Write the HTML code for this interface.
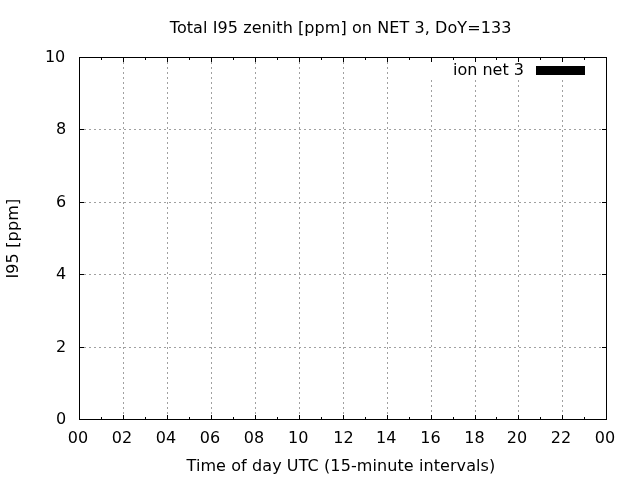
<!DOCTYPE html>
<html><head><meta charset="utf-8"><title>Total I95 zenith</title>
<style>html,body{margin:0;padding:0;background:#fff;}svg{display:block;font-family:"DejaVu Sans","Liberation Sans",sans-serif;font-size:16px;fill:#000;}</style>
</head><body>
<svg width="640" height="480" viewBox="0 0 640 480">
<rect x="0" y="0" width="640" height="480" fill="#fff"/>
<g stroke="#a0a0a0" stroke-width="1" stroke-dasharray="2 3" fill="none">
<path d="M123.5 57V419.5"/>
<path d="M167.5 57V419.5"/>
<path d="M211.5 57V419.5"/>
<path d="M255.5 57V419.5"/>
<path d="M299.5 57V419.5"/>
<path d="M343.5 57V419.5"/>
<path d="M387.5 57V419.5"/>
<path d="M431.5 80V419.5"/>
<path d="M475.5 80V419.5"/>
<path d="M518.5 80V419.5"/>
<path d="M562.5 80V419.5"/>
<path d="M79 347.5H606.5"/>
<path d="M79 274.5H606.5"/>
<path d="M79 202.5H606.5"/>
<path d="M79 129.5H606.5"/>
</g>
<g stroke="#000" stroke-width="1" fill="none">
<path d="M79.5 419.5v-4.5M79.5 57.5v4.5"/>
<path d="M101.5 419.5v-2.5M101.5 57.5v2.5"/>
<path d="M123.5 419.5v-4.5M123.5 57.5v4.5"/>
<path d="M145.5 419.5v-2.5M145.5 57.5v2.5"/>
<path d="M167.5 419.5v-4.5M167.5 57.5v4.5"/>
<path d="M189.5 419.5v-2.5M189.5 57.5v2.5"/>
<path d="M211.5 419.5v-4.5M211.5 57.5v4.5"/>
<path d="M233.5 419.5v-2.5M233.5 57.5v2.5"/>
<path d="M255.5 419.5v-4.5M255.5 57.5v4.5"/>
<path d="M277.5 419.5v-2.5M277.5 57.5v2.5"/>
<path d="M299.5 419.5v-4.5M299.5 57.5v4.5"/>
<path d="M321.5 419.5v-2.5M321.5 57.5v2.5"/>
<path d="M343.5 419.5v-4.5M343.5 57.5v4.5"/>
<path d="M365.5 419.5v-2.5M365.5 57.5v2.5"/>
<path d="M387.5 419.5v-4.5M387.5 57.5v4.5"/>
<path d="M409.5 419.5v-2.5M409.5 57.5v2.5"/>
<path d="M431.5 419.5v-4.5M431.5 57.5v4.5"/>
<path d="M453.5 419.5v-2.5M453.5 57.5v2.5"/>
<path d="M475.5 419.5v-4.5M475.5 57.5v4.5"/>
<path d="M496.5 419.5v-2.5M496.5 57.5v2.5"/>
<path d="M518.5 419.5v-4.5M518.5 57.5v4.5"/>
<path d="M540.5 419.5v-2.5M540.5 57.5v2.5"/>
<path d="M562.5 419.5v-4.5M562.5 57.5v4.5"/>
<path d="M584.5 419.5v-2.5M584.5 57.5v2.5"/>
<path d="M606.5 419.5v-4.5M606.5 57.5v4.5"/>
<path d="M79.5 419.5h4.5M606.5 419.5h-4.5"/>
<path d="M79.5 347.5h4.5M606.5 347.5h-4.5"/>
<path d="M79.5 274.5h4.5M606.5 274.5h-4.5"/>
<path d="M79.5 202.5h4.5M606.5 202.5h-4.5"/>
<path d="M79.5 129.5h4.5M606.5 129.5h-4.5"/>
<path d="M79.5 57.5h4.5M606.5 57.5h-4.5"/>
<rect x="79.5" y="57.5" width="527.0" height="362.0"/>
</g>
<rect x="536" y="66" width="49" height="9" fill="#000"/>
<text x="524" y="75" text-anchor="end">ion net 3</text>
<text x="340.55" y="33" text-anchor="middle" textLength="341.6" lengthAdjust="spacing">Total I95 zenith [ppm] on NET 3, DoY=133</text>
<text x="340.9" y="471" text-anchor="middle" textLength="308.75" lengthAdjust="spacing">Time of day UTC (15-minute intervals)</text>
<text transform="translate(17.9,238.7) rotate(-90)" text-anchor="middle" textLength="79.8" lengthAdjust="spacing">I95 [ppm]</text>
<text x="66.2" y="423.5" text-anchor="end">0</text>
<text x="66.2" y="351.5" text-anchor="end">2</text>
<text x="66.2" y="278.5" text-anchor="end">4</text>
<text x="66.2" y="206.5" text-anchor="end">6</text>
<text x="66.2" y="133.5" text-anchor="end">8</text>
<text x="65.3" y="61.5" text-anchor="end">10</text>
<text x="78" y="443" text-anchor="middle">00</text>
<text x="122" y="443" text-anchor="middle">02</text>
<text x="166" y="443" text-anchor="middle">04</text>
<text x="210" y="443" text-anchor="middle">06</text>
<text x="254" y="443" text-anchor="middle">08</text>
<text x="298.3" y="443" text-anchor="middle">10</text>
<text x="343.4" y="443" text-anchor="middle">12</text>
<text x="386.2" y="443" text-anchor="middle">14</text>
<text x="430.4" y="443" text-anchor="middle">16</text>
<text x="474.5" y="443" text-anchor="middle">18</text>
<text x="517" y="443" text-anchor="middle">20</text>
<text x="561" y="443" text-anchor="middle">22</text>
<text x="605" y="443" text-anchor="middle">00</text>
</svg>
</body></html>
